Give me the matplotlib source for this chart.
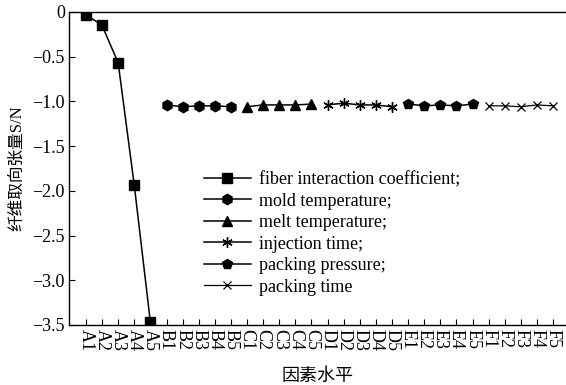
import matplotlib
matplotlib.use("Agg")
import matplotlib.pyplot as plt
import numpy as np

plt.rcParams['font.family'] = ['Liberation Serif', 'Noto Sans CJK SC']

# factor levels
levels = ['A1', 'A2', 'A3', 'A4', 'A5',
          'B1', 'B2', 'B3', 'B4', 'B5',
          'C1', 'C2', 'C3', 'C4', 'C5',
          'D1', 'D2', 'D3', 'D4', 'D5',
          'E1', 'E2', 'E3', 'E4', 'E5',
          'F1', 'F2', 'F3', 'F4', 'F5']

# S/N values per factor
fiber_coef = [-0.03, -0.15, -0.57, -1.94, -3.47]
mold_temp = [-1.04, -1.06, -1.05, -1.05, -1.06]
melt_temp = [-1.06, -1.04, -1.04, -1.04, -1.03]
inject_time = [-1.04, -1.02, -1.04, -1.04, -1.06]
pack_pressure = [-1.03, -1.05, -1.04, -1.05, -1.03]
pack_time = [-1.05, -1.05, -1.06, -1.04, -1.05]

names = ['fiber interaction coefficient;', 'mold temperature;', 'melt temperature;',
         'injection time;', 'packing pressure;', 'packing time']

fig = plt.figure(figsize=(5.66, 3.85), dpi=100)
ax = fig.add_axes([0.122, 0.156, 0.878, 0.813])

x = np.arange(len(levels))
series = [fiber_coef, mold_temp, melt_temp, inject_time, pack_pressure, pack_time]
markers = ['s', 'h', '^', (6, 2, 0), 'p', 'x']
for i, vals in enumerate(series):
    xs = x[i*5:(i+1)*5]
    if i == 5:
        ax.plot(xs, vals, color='black', lw=0.9, marker='x', ms=6, mew=0.9,
                label=names[i])
    else:
        ax.plot(xs, vals, color='black', lw=1.1, marker=markers[i], ms=7.5,
                mew=1.0, label=names[i])

ax.set_xlim(-1.05, 29.8)
ax.set_ylim(-3.5, 0)
ax.set_yticks(np.arange(-3.5, 0.01, 0.5))
ax.set_yticklabels(['\u22123.5', '\u22123.0', '\u22122.5', '\u22122.0', '\u22121.5',
                    '\u22121.0', '\u22120.5', '0'])
ax.set_xticks(x)
ax.set_xticklabels(levels, rotation=270, fontsize=13)
ax.tick_params(axis='both', direction='in', length=4, width=0.8)
ax.tick_params(axis='y', labelsize=13, pad=3)
ax.tick_params(axis='x', pad=3)
ax.spines['right'].set_visible(False)
for s in ['left', 'top', 'bottom']:
    ax.spines[s].set_linewidth(1.0)

ax.set_ylabel('纤维取向张量S/N', fontsize=12, labelpad=5)
ax.set_xlabel('因素水平', fontsize=13, labelpad=12)

ax.legend(loc='upper left', bbox_to_anchor=(0.246, 0.532), frameon=False,
          fontsize=13, handlelength=2.6, labelspacing=0.25, borderpad=0.2,
          handletextpad=0.45)

fig.savefig('out.png', dpi=100)
